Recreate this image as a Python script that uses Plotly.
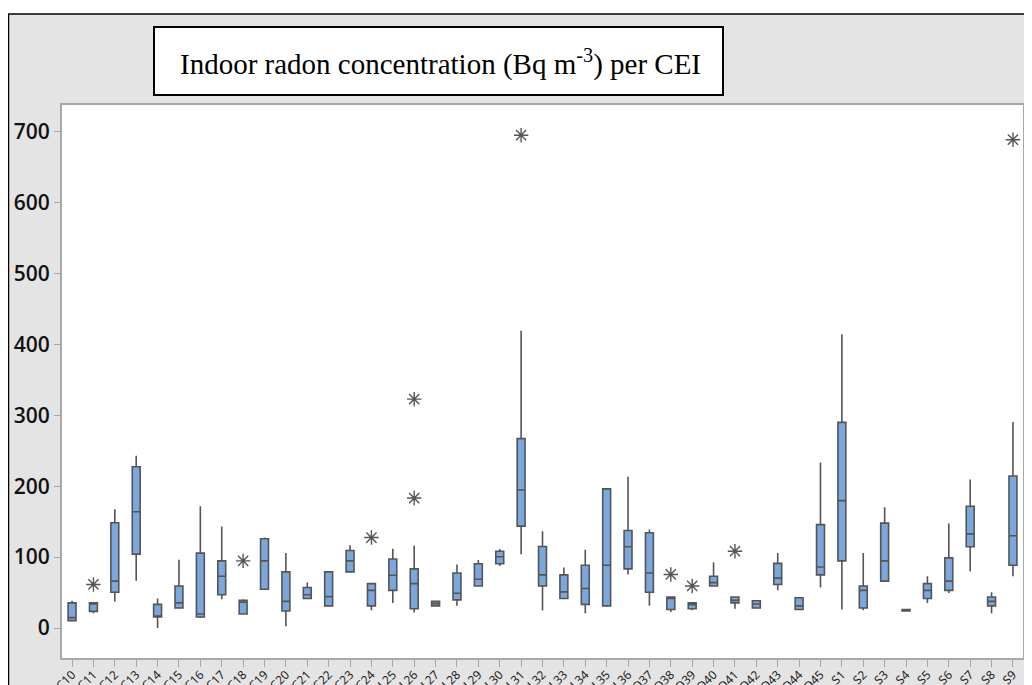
import plotly.graph_objects as go

categories = ["C10", "C11", "C12", "C13", "C14", "C15", "C16", "C17", "C18", "C19",
              "C20", "C21", "C22", "C23", "C24", "L25", "L26", "L27", "L28", "L29",
              "L30", "L31", "L32", "L33", "L34", "L35", "L36", "O37", "O38", "O39",
              "O40", "O41", "O42", "O43", "O44", "O45", "S1", "S2", "S3", "S4",
              "S5", "S6", "S7", "S8", "S9"]

q1 = [10.4, 23.4, 50.5, 104.1, 15.6, 28.1, 15.6, 46.8, 19.8, 54.6,
      23.9, 41.6, 31.2, 79.1, 31.2, 53.1, 27.1, 31.2, 39.6, 59.3,
      90.6, 143.6, 59.3, 41.6, 33.3, 31.2, 83.3, 50.5, 26.0, 27.1,
      59.3, 35.4, 28.1, 61.4, 26.0, 74.9, 94.7, 28.1, 66.1, 24.0,
      41.6, 53.1, 114.5, 31.2, 88.5]
median = [14.6, 33.8, 66.1, 163.9, 16.7, 35.4, 19.8, 72.9, 36.4, 94.7,
          37.5, 46.8, 44.2, 94.7, 53.1, 74.4, 62.5, 34.3, 48.9, 68.7,
          100.4, 194.6, 74.9, 51.0, 55.7, 88.5, 114.5, 77.5, 41.6, 33.0,
          64.0, 39.0, 33.8, 70.3, 31.2, 85.9, 179.6, 53.1, 94.7, 25.0,
          53.1, 66.1, 132.7, 37.5, 130.1]
q3 = [35.4, 35.4, 148.3, 227.4, 33.3, 59.3, 105.6, 94.7, 39.0, 125.9,
      79.1, 57.2, 79.1, 109.3, 62.5, 97.3, 83.3, 37.5, 77.5, 90.6,
      108.3, 267.0, 115.0, 74.9, 88.5, 196.2, 137.4, 134.3, 43.7, 35.4,
      72.9, 43.7, 38.5, 91.1, 42.7, 145.7, 289.9, 59.3, 147.8, 26.0,
      62.5, 98.9, 171.7, 43.7, 214.4]
lower = [10.4, 20.8, 37.5, 66.6, 0.0, 28.1, 14.0, 40.6, 19.8, 54.6,
         2.6, 41.6, 31.2, 79.1, 25.0, 35.4, 21.9, 31.2, 31.2, 59.3,
         87.4, 104.1, 24.5, 41.6, 20.8, 31.2, 75.5, 31.2, 22.4, 25.0,
         59.3, 27.1, 28.1, 53.1, 26.0, 57.2, 26.0, 25.0, 66.1, 24.0,
         35.4, 49.4, 79.6, 20.8, 72.9]
upper = [38.5, 35.4, 167.6, 243.0, 41.6, 96.3, 171.7, 143.1, 40.6, 127.5,
         105.6, 64.0, 79.1, 116.6, 62.5, 111.9, 116.1, 37.5, 89.5, 95.8,
         111.4, 419.0, 136.4, 85.4, 110.3, 196.2, 213.4, 139.0, 43.7, 35.4,
         92.6, 43.7, 38.5, 105.6, 42.7, 233.2, 414.3, 105.6, 170.2, 26.0,
         72.9, 147.3, 209.2, 50.5, 290.4]

outlier_cats = ["C11", "C18", "C24", "L26", "L26", "L31", "O38", "O39", "O41", "S9"]
outlier_vals = [61.4, 94.7, 127.5, 322.7, 183.2, 694.8, 75.5, 59.3, 108.3, 688.5]

y_ticks = [0, 100, 200, 300, 400, 500, 600, 700]

LINE = "#555555"
FILL = "#7ba7dc"

fig = go.Figure()

fig.add_trace(go.Box(
    x=categories, q1=q1, median=median, q3=q3,
    lowerfence=lower, upperfence=upper,
    fillcolor=FILL, line=dict(color=LINE, width=1.6),
    whiskerwidth=0, width=0.37, boxpoints=False,
    showlegend=False, hoverinfo="skip",
))

fig.add_trace(go.Scatter(
    x=outlier_cats, y=outlier_vals, mode="markers",
    marker=dict(symbol="asterisk-open", size=12, color=LINE,
                line=dict(color=LINE, width=1.4)),
    showlegend=False, hoverinfo="skip",
))

# page body has an 8px margin: figure coordinates = page coordinates - 8
OFF = 8
W, H = 1032 - OFF, 685 - OFF
L, T = 62 - OFF, 105 - OFF
R = W - (1023 - OFF)
B = H - (658 - OFF)
pw, ph = W - L - R, H - T - B

def px(xp):
    return (xp - OFF - L) / pw

def py(yp):
    return (H - B - (yp - OFF)) / ph

shapes = [
    dict(type="rect", xref="paper", yref="paper", layer="below",
         x0=px(8.5), x1=px(1045), y0=py(700), y1=py(14),
         fillcolor="#e4e4e4", line=dict(color="black", width=1.5)),
    dict(type="rect", xref="paper", yref="paper", layer="below",
         x0=0, x1=1, y0=0, y1=1, fillcolor="white", line=dict(width=0)),
    dict(type="rect", xref="paper", yref="paper", layer="above",
         x0=px(154), x1=px(723), y0=py(95), y1=py(27),
         fillcolor="white", line=dict(color="black", width=2)),
]

fig.update_layout(
    width=W, height=H,
    margin=dict(l=L, r=R, t=T, b=B, autoexpand=False),
    paper_bgcolor="white", plot_bgcolor="rgba(0,0,0,0)",
    shapes=shapes,
    annotations=[dict(
        xref="paper", yref="paper", x=px(440), y=py(62),
        xanchor="center", yanchor="middle", showarrow=False,
        text="Indoor radon concentration (Bq m<sup>-3</sup>) per CEI",
        font=dict(family="Liberation Serif", size=29, color="black"),
    )],
    xaxis=dict(
        type="category", categoryorder="array", categoryarray=categories,
        range=[-0.47, 44.47], automargin=False,
        tickangle=-45, tickfont=dict(family="Noto Sans", size=12, color="#222222"),
        ticklabelstandoff=-4,
        showline=True, linecolor="#a8a8a8", linewidth=2, mirror=True,
        ticks="outside", ticklen=7, tickcolor="#a8a8a8", tickwidth=1.2,
        showgrid=False, zeroline=False,
    ),
    yaxis=dict(
        range=[-42.3, 737.4], automargin=False,
        tickvals=y_ticks, ticktext=[str(v) for v in y_ticks],
        tickfont=dict(family="Open Sans", size=21, color="#111111", weight=600),
        showline=True, linecolor="#a8a8a8", linewidth=2, mirror=True,
        ticks="outside", ticklen=6, tickcolor="#a8a8a8", tickwidth=1.2,
        showgrid=False, zeroline=False,
    ),
)

fig.write_html("out.html")
